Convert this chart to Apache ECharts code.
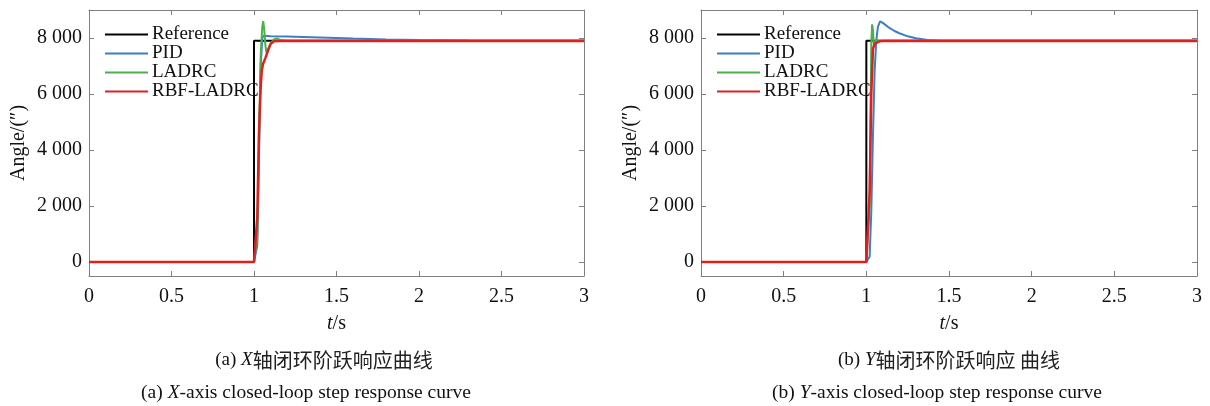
<!DOCTYPE html>
<html>
<head>
<meta charset="utf-8">
<script src="https://cdn.jsdelivr.net/npm/echarts@6/dist/echarts.min.js"></script>
<style>
html,body{margin:0;padding:0;background:#fff;}
#c{width:1210px;height:406px;}
</style>
</head>
<body>
<div id="c"></div>
<script>
// ---- Data ----
const seriesNames = ['Reference', 'PID', 'LADRC', 'RBF-LADRC'];
const xTicks = [0, 0.5, 1, 1.5, 2, 2.5, 3];
const yTicks = [0, 2000, 4000, 6000, 8000];

// (a) X axis
const refT = [0, 1, 1, 3];
const refV = [0, 0, 7900, 7900];

const xPidT = [0, 1.0, 1.01, 1.02, 1.03, 1.04, 1.05, 1.06, 1.08, 1.1, 1.2, 1.4, 1.6, 1.8, 2.0, 2.3, 2.6, 3.0];
const xPidV = [0, 0, 0, 600, 3600, 6900, 8000, 8080, 8070, 8060, 8050, 8020, 7980, 7950, 7930, 7910, 7900, 7900];

const xLadrcT = [0, 1.0, 1.01, 1.02, 1.03, 1.04, 1.05, 1.056, 1.062, 1.068, 1.075, 1.085, 1.1, 1.12, 1.137, 1.16, 1.2, 3];
const xLadrcV = [0, 0, 0, 900, 4200, 7300, 8400, 8600, 8300, 7800, 7480, 7550, 7800, 7950, 7980, 7930, 7900, 7900];

const xRbfT = [0, 1.0, 1.01, 1.02, 1.03, 1.04, 1.047, 1.055, 1.07, 1.085, 1.1, 1.12, 1.15, 3];
const xRbfV = [0, 0, 0, 1600, 4600, 6200, 6830, 7080, 7300, 7550, 7780, 7880, 7890, 7890];

// (b) Y axis
const yPidT = [0, 1.0, 1.01, 1.02, 1.03, 1.04, 1.05, 1.06, 1.07, 1.083, 1.1, 1.13, 1.17, 1.2, 1.25, 1.3, 1.37, 1.45, 1.6, 3];
const yPidV = [0, 0, 0, 200, 1800, 4500, 6800, 7900, 8400, 8590, 8540, 8400, 8250, 8170, 8060, 7990, 7930, 7905, 7900, 7900];

const yLadrcT = [0, 1.0, 1.01, 1.02, 1.025, 1.03, 1.035, 1.04, 1.045, 1.05, 1.06, 1.08, 3];
const yLadrcV = [0, 0, 0, 2000, 5000, 7800, 8490, 8300, 7800, 7850, 7920, 7900, 7900];

const yRbfT = [0, 1.0, 1.01, 1.02, 1.03, 1.04, 1.05, 1.06, 1.08, 1.1, 3];
const yRbfV = [0, 0, 0, 2500, 6000, 7600, 7800, 7850, 7880, 7890, 7890];

const captionsPrefix = ['(a) ', '(b) '];
const captionsCNRest = ['轴闭环阶跃响应曲线', '轴闭环阶跃响应 曲线'];
const captionsEN = ['-axis closed-loop step response curve', '-axis closed-loop step response curve'];
const captionAxis = ['X', 'Y'];

const colors = ['#000000', '#3d7fc2', '#4cb04a', '#e02020'];
const widths = [2, 2, 2, 2.5];

function pairs(t, v) { return t.map((x, i) => [x, v[i]]); }

const SERIF = '"Liberation Serif", "Times New Roman", serif';
const CJK = '"Noto Sans CJK SC", sans-serif';
const frameColor = '#7f7f7f';

const grids = [
  { left: 89, width: 495, top: 10, bottom: 130 },
  { left: 701, width: 496, top: 10, bottom: 130 }
];

const frameLine = { show: true, onZero: false, lineStyle: { color: frameColor, width: 1 } };
const tickStyle = { color: frameColor, width: 1 };

const xAxes = [], yAxes = [], series = [], legends = [];
grids.forEach((g, gi) => {
  xAxes.push({
    type: 'value', gridIndex: gi, min: 0, max: 3, interval: 0.5,
    name: '{i|t}/s', nameLocation: 'middle', nameGap: 38,
    nameTextStyle: { fontFamily: SERIF, fontSize: 20, color: '#111',
      rich: { i: { fontStyle: 'italic', fontFamily: SERIF, fontSize: 20, color: '#111' } } },
    axisLine: frameLine,
    axisTick: { show: true, inside: true, length: 5, customValues: xTicks, lineStyle: tickStyle },
    axisLabel: { fontFamily: SERIF, fontSize: 20, color: '#111', margin: 11, customValues: xTicks,
      formatter: v => String(v) },
    splitLine: { show: false }
  });
  xAxes.push({
    type: 'value', gridIndex: gi, position: 'top', min: 0, max: 3, interval: 0.5,
    axisLine: frameLine,
    axisTick: { show: true, inside: true, length: 5, customValues: xTicks, lineStyle: tickStyle },
    axisLabel: { show: false }, splitLine: { show: false }
  });
  yAxes.push({
    type: 'value', gridIndex: gi, min: -500, max: 9000,
    name: 'Angle/(″)', nameLocation: 'middle', nameGap: 60, nameRotate: 90,
    nameTextStyle: { fontFamily: SERIF, fontSize: 20, color: '#111' },
    axisLine: frameLine,
    axisTick: { show: true, inside: true, length: 5, customValues: yTicks, lineStyle: tickStyle },
    axisLabel: { fontFamily: SERIF, fontSize: 20, color: '#111', margin: 7, customValues: yTicks,
      formatter: v => String(v).replace(/\B(?=(\d{3})+(?!\d))/g, ' ') },
    splitLine: { show: false }
  });
  yAxes.push({
    type: 'value', gridIndex: gi, position: 'right', min: -500, max: 9000,
    axisLine: frameLine,
    axisTick: { show: true, inside: true, length: 5, customValues: yTicks, lineStyle: tickStyle },
    axisLabel: { show: false }, splitLine: { show: false }
  });
  legends.push({
    orient: 'vertical', left: g.left + 16, top: 25, itemWidth: 43, itemHeight: 2, itemGap: 0,
    icon: 'rect', padding: 0,
    textStyle: { fontFamily: SERIF, fontSize: 19, color: '#111', padding: [0, 0, 0, -1], lineHeight: 18, height: 18 },
    data: seriesNames
  });
});

const dataSets = [
  [pairs(refT, refV), pairs(xPidT, xPidV), pairs(xLadrcT, xLadrcV), pairs(xRbfT, xRbfV)],
  [pairs(refT, refV), pairs(yPidT, yPidV), pairs(yLadrcT, yLadrcV), pairs(yRbfT, yRbfV)]
];
dataSets.forEach((ds, gi) => {
  ds.forEach((d, si) => {
    series.push({
      name: seriesNames[si], type: 'line', xAxisIndex: gi * 2, yAxisIndex: gi * 2,
      data: d, showSymbol: false, symbol: 'none', smooth: false,
      lineStyle: { color: colors[si], width: widths[si] },
      itemStyle: { color: colors[si] },
      z: 2 + si, animation: false
    });
  });
});

const cnCenters = [319, 944];
const enCenters = [301, 932];
const titles = [];
[0, 1].forEach(i => {
  titles.push({
    text: '{s|' + captionsPrefix[i] + '}{i|' + captionAxis[i] + '}{c|' + captionsCNRest[i] + '}',
    left: cnCenters[i], top: 345, textAlign: 'center',
    textStyle: { fontFamily: SERIF, fontSize: 19, fontWeight: 'normal', color: '#111',
      rich: {
        s: { fontFamily: SERIF, fontSize: 19, color: '#111' },
        i: { fontStyle: 'italic', fontFamily: SERIF, fontSize: 19, color: '#111' },
        c: { fontFamily: CJK, fontSize: 20, color: '#222' }
      } }
  });
  titles.push({
    text: '{s|' + captionsPrefix[i] + '}{i|' + captionAxis[i] + '}{s|' + captionsEN[i] + '}',
    left: enCenters[i], top: 378, textAlign: 'center',
    textStyle: { fontFamily: SERIF, fontSize: 19.5, fontWeight: 'normal', color: '#111',
      rich: {
        s: { fontFamily: SERIF, fontSize: 19.5, color: '#111' },
        i: { fontStyle: 'italic', fontFamily: SERIF, fontSize: 19.5, color: '#111' }
      } }
  });
});

const chart = echarts.init(document.getElementById('c'), null, { renderer: 'canvas' });
chart.setOption({
  backgroundColor: '#ffffff',
  animation: false,
  title: titles,
  grid: grids,
  xAxis: xAxes,
  yAxis: yAxes,
  legend: legends,
  series: series
});
</script>
</body>
</html>
